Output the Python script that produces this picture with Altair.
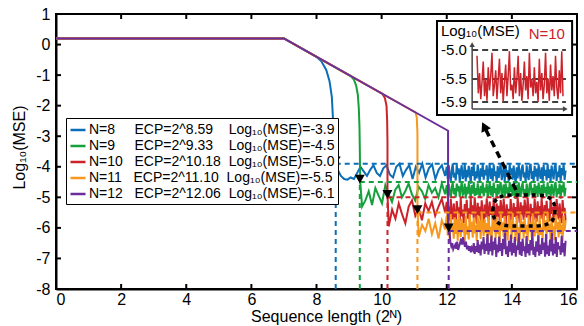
import altair as alt
import numpy as np
import pandas as pd

FONT = "Liberation Sans, Arial, sans-serif"

# ---------------- data ----------------
N_VALUES = [8, 9, 10, 11, 12]
ECP = [8.59, 9.33, 10.18, 11.10, 12.06]
LOG_MSE = [-3.9, -4.5, -5.0, -5.5, -6.1]
COLORS = ["#0b6fb8", "#14a03a", "#cc2229", "#f7981d", "#6b2d9b"]

PLATEAU_X = [0.0, 7.0]
PLATEAU_Y = [0.2, 0.2]
BRANCH_X = [8.0, 9.05, 10.02, 11.04, 12.04]
BRANCH_Y = [-0.4, -1.03, -1.61, -2.22, -2.82]

DROP_X = [
    [8.15, 8.3, 8.4, 8.47, 8.5, 8.52, 8.55, 8.57],
    [9.15, 9.22, 9.27, 9.3, 9.32, 9.33, 9.34],
    [10.1, 10.15, 10.17, 10.18, 10.18],
    [11.08, 11.1, 11.1],
    [12.04],
]
DROP_Y = [
    [-0.55, -0.83, -1.2, -1.7, -2.3, -2.8, -3.4, -3.85],
    [-1.15, -1.35, -1.65, -2.1, -2.7, -3.4, -4.45],
    [-1.75, -2.0, -2.5, -3.2, -4.9],
    [-2.4, -2.9, -5.4],
    [-6.0],
]

TAIL_A_START = [8.65, 9.4, 10.22, 11.14, None]
TAIL_A_END = 11.95
TAIL_A_Y = [
    [-4.1, -4.3, -4.4, -4.42, -4.35, -4.4, -4.2, -4.0, -4.15, -4.3, -4.1, -3.95, -4.2, -4.3, -4.05, -3.95, -4.25,
     -4.35, -4.0, -3.9, -4.3, -4.1, -3.95, -4.4, -4.0, -4.2, -3.9, -4.35, -4.05, -3.92, -4.4, -4.1, -3.95, -4.3],
    [-5.3, -5.1, -4.8, -5.25, -4.7, -4.95, -5.2, -4.6, -4.9, -5.15, -4.75, -4.6, -5.0, -4.8, -4.55, -4.9, -5.1,
     -4.65, -4.8, -5.05, -4.6, -4.85, -4.7, -5.0, -4.55, -4.9],
    [-5.95, -5.4, -5.7, -5.2, -5.55, -5.85, -5.3, -5.1, -5.6, -5.35, -5.75, -5.2, -5.45, -5.15, -5.6, -5.3, -5.05, -5.5],
    [-6.3, -5.9, -6.1, -5.7, -6.2, -5.85, -6.35, -5.75, -6.05],
    [],
]

TAIL_B_START = [12.0, 12.0, 12.0, 12.0, 12.08]
TAIL_B_END = 15.65
TAIL_B_Y = [
    [-4.0, -4.4, -3.95, -4.3, -4.5, -4.1, -3.9, -4.35, -4.2, -4.45, -3.92, -4.25, -4.05, -4.5, -4.15, -3.95, -4.4, -4.3, -3.9, -4.48,
     -4.1, -4.35, -3.97, -4.2, -4.55, -4.0, -4.3, -3.9, -4.45, -4.15, -4.38, -3.93, -4.25, -4.5, -4.05, -4.32, -3.9, -4.42, -4.1, -4.28,
     -3.95, -4.5, -4.2, -3.9, -4.4, -4.05, -4.47, -3.92, -4.3, -4.15, -4.52, -3.98, -4.36, -4.1, -3.9, -4.44, -4.22, -4.0, -4.5, -3.94,
     -4.33, -4.12, -4.48, -3.9, -4.26, -4.05, -4.42, -3.96, -4.3, -4.55, -4.02, -4.38, -3.91, -4.2, -4.46, -4.08, -3.93, -4.35, -4.18, -4.5,
     -3.95, -4.28, -4.43, -4.0, -3.9, -4.4, -4.14, -4.5, -3.97, -4.32, -4.06, -4.47, -3.92, -4.24, -4.39, -4.02, -4.52, -3.94, -4.3, -4.1,
     -4.45, -3.9, -4.36, -4.08, -4.5, -3.96, -4.22, -4.41, -4.0, -3.92, -4.47, -4.16, -4.34, -3.95, -4.5, -4.04, -4.28, -3.9, -4.43, -4.12],
    [-4.6, -4.95, -4.55, -4.85, -5.02, -4.65, -4.52, -4.9, -4.7, -5.0, -4.55, -4.8, -4.62, -4.98, -4.72, -4.5, -4.92, -4.85, -4.55, -5.04,
     -4.66, -4.9, -4.53, -4.78, -5.05, -4.6, -4.88, -4.5, -4.96, -4.7, -4.93, -4.54, -4.82, -5.01, -4.62, -4.87, -4.51, -4.97, -4.68, -4.84,
     -4.55, -5.02, -4.75, -4.5, -4.94, -4.63, -4.99, -4.52, -4.86, -4.7, -5.04, -4.57, -4.9, -4.66, -4.5, -4.96, -4.78, -4.58, -5.01, -4.54,
     -4.88, -4.67, -5.0, -4.5, -4.83, -4.6, -4.95, -4.55, -4.87, -5.05, -4.59, -4.92, -4.51, -4.76, -4.99, -4.64, -4.52, -4.9, -4.73, -5.02,
     -4.55, -4.84, -4.97, -4.58, -4.5, -4.93, -4.69, -5.03, -4.56, -4.88, -4.62, -4.99, -4.52, -4.8, -4.94, -4.6, -5.04, -4.54, -4.86, -4.66,
     -4.98, -4.51, -4.9, -4.64, -5.03, -4.56, -4.79, -4.95, -4.59, -4.5, -5.0, -4.71, -4.89, -4.55, -5.04, -4.61, -4.84, -4.5, -4.97, -4.68],
    [-5.15, -5.65, -5.3, -5.8, -5.05, -5.5, -5.72, -5.2, -5.58, -5.88, -5.12, -5.45, -5.33, -5.78, -5.02, -5.62, -5.4, -5.85, -5.22, -5.52,
     -5.08, -5.7, -5.36, -5.82, -5.04, -5.56, -5.26, -5.68, -5.0, -5.47, -5.86, -5.18, -5.61, -5.3, -5.76, -5.1, -5.52, -5.9, -5.24, -5.66,
     -5.03, -5.42, -5.81, -5.14, -5.57, -5.34, -5.73, -5.01, -5.49, -5.87, -5.2, -5.63, -5.28, -5.79, -5.09, -5.46, -5.67, -5.04, -5.55, -5.89,
     -5.23, -5.6, -5.38, -5.77, -5.06, -5.51, -5.84, -5.19, -5.64, -5.32, -5.71, -5.02, -5.48, -5.83, -5.16, -5.58, -5.27, -5.74, -5.07, -5.44,
     -5.66, -5.0, -5.53, -5.86, -5.21, -5.62, -5.35, -5.75, -5.05, -5.5, -5.8, -5.13, -5.59, -5.29, -5.7, -5.03, -5.46, -5.88, -5.25, -5.6,
     -5.11, -5.68, -5.37, -5.79, -5.02, -5.54, -5.31, -5.83, -5.17, -5.63, -5.06, -5.45, -5.72, -5.2, -5.57, -5.85, -5.09, -5.5, -5.34, -5.76],
    [-5.6, -6.25, -5.8, -6.4, -5.55, -6.1, -5.92, -6.35, -5.65, -6.2, -5.72, -6.42, -5.52, -6.02, -6.3, -5.7, -6.15, -5.86, -6.45, -5.6,
     -6.22, -5.95, -6.38, -5.54, -6.06, -5.8, -6.32, -5.66, -6.18, -5.9, -6.43, -5.58, -6.12, -5.76, -6.36, -5.5, -6.0, -6.27, -5.7, -6.16,
     -5.84, -6.44, -5.62, -6.24, -5.96, -6.4, -5.56, -6.08, -5.78, -6.33, -5.64, -6.2, -5.88, -6.45, -5.53, -6.1, -5.82, -6.3, -5.61, -6.26,
     -5.93, -6.41, -5.57, -6.04, -5.74, -6.37, -5.51, -6.14, -5.87, -6.44, -5.6, -6.21, -5.97, -6.39, -5.55, -6.07, -5.79, -6.34, -5.67, -6.19,
     -5.9, -6.42, -5.59, -6.11, -5.83, -6.3, -5.52, -6.02, -6.28, -5.69, -6.17, -5.91, -6.45, -5.58, -6.23, -5.98, -6.38, -5.54, -6.09, -5.75,
     -6.35, -5.5, -6.13, -5.86, -6.43, -5.63, -6.25, -5.94, -6.4, -5.56, -6.05, -5.81, -6.31, -5.68, -6.2, -5.89, -6.44, -5.6, -6.1, -5.77],
    [-6.05, -6.45, -6.6, -6.5, -6.7, -6.62, -6.55, -6.68, -6.45, -6.72, -6.6, -6.5, -6.35, -6.55, -6.3, -6.5, -6.62, -6.45, -6.7, -6.58,
     -6.75, -6.6, -6.8, -6.65, -6.72, -6.5, -6.85, -6.6, -6.78, -6.4, -6.82, -6.55, -6.9, -6.45, -6.7, -6.3, -6.85, -6.52, -6.75, -6.2,
     -6.88, -6.5, -6.76, -6.25, -6.9, -6.45, -6.72, -6.32, -6.95, -6.55, -6.8, -6.28, -6.75, -6.5, -6.92, -6.36, -6.7, -6.15, -6.86, -6.6,
     -6.95, -6.42, -6.78, -6.22, -6.9, -6.5, -6.82, -6.3, -6.94, -6.58, -6.72, -6.18, -6.88, -6.46, -6.92, -6.35, -6.76, -6.6, -6.95, -6.27,
     -6.83, -6.53, -6.9, -6.4, -6.74, -6.12, -6.88, -6.62, -6.95, -6.44, -6.78, -6.24, -6.91, -6.55, -6.85, -6.33, -6.72, -6.48, -6.94, -6.2,
     -6.86, -6.58, -6.92, -6.38, -6.77, -6.16, -6.9, -6.52, -6.84, -6.3, -6.95, -6.47, -6.7, -6.6, -6.88, -6.26, -6.8, -6.5, -6.93, -6.42],
]

INSET_Y = [-5.1, -5.75, -5.4, -5.85, -5.55, -5.2, -5.8, -5.5, -5.88, -5.3, -5.7, -5.45, -5.05, -5.8, -5.6, -5.35,
           -5.85, -5.5, -5.15, -5.75, -5.4, -5.9, -5.55, -5.25, -5.8, -5.45, -5.02, -5.7, -5.6, -5.85, -5.3, -5.75,
           -5.5, -5.1, -5.8, -5.4, -5.88, -5.6, -5.2, -5.7, -5.45, -5.85, -5.05, -5.65, -5.5, -5.8, -5.3, -5.75,
           -5.55, -5.9, -5.15, -5.7, -5.4, -5.85, -5.6, -5.05, -5.75, -5.5, -5.88, -5.25, -5.7, -5.45, -5.8, -5.1,
           -5.65, -5.85, -5.35, -5.75, -5.02, -5.8]
INSET_TICKS = [-5.0, -5.5, -5.9]
INSET_TICK_LABELS = ["-5.0", "-5.5", "-5.9"]

X_TICKS = [0, 2, 4, 6, 8, 10, 12, 14, 16]
Y_TICKS = [1, 0, -1, -2, -3, -4, -5, -6, -7, -8]

# ---------------- layout constants ----------------
W, H = 521, 275
X_MIN, X_MAX, Y_MIN, Y_MAX = 0, 16, -8, 1
NB = "\u00a0"
FS = "\u2007"
RED = COLORS[2]


def label(n, e, m):
    c1 = f"N={n}" + (FS if n < 10 else "")
    c2 = f"ECP=2^{e:.2f}" + (FS if e < 10 else "")
    return c1 + NB * 3 + c2 + NB * 2 + f"Log\u2081\u2080(MSE)={m:.1f}"


LABELS = [label(n, e, m) for n, e, m in zip(N_VALUES, ECP, LOG_MSE)]

rows = []
for i in range(5):
    xs = PLATEAU_X + [BRANCH_X[i]] + DROP_X[i]
    ys = PLATEAU_Y + [BRANCH_Y[i]] + DROP_Y[i]
    if TAIL_A_Y[i]:
        xs += list(np.linspace(TAIL_A_START[i], TAIL_A_END, len(TAIL_A_Y[i])))
        ys += TAIL_A_Y[i]
    xs += list(np.linspace(TAIL_B_START[i], TAIL_B_END, len(TAIL_B_Y[i])))
    ys += TAIL_B_Y[i]
    for k, (xv, yv) in enumerate(zip(xs, ys)):
        rows.append({"series": LABELS[i], "x": xv, "y": yv, "idx": k})
lines_df = pd.DataFrame(rows)

ecp_df = pd.DataFrame({"series": LABELS, "ecp": ECP, "mse": LOG_MSE,
                       "ybot": [Y_MIN] * 5, "xright": [X_MAX] * 5})

xs_ = alt.Scale(domain=[X_MIN, X_MAX], nice=False, zero=False)
ys_ = alt.Scale(domain=[Y_MIN, Y_MAX], nice=False, zero=False)
x_axis = alt.Axis(values=X_TICKS, title="Sequence length (2\u1d3a)", ticks=False, grid=False,
                  labelPadding=2, labelFontSize=16, titleFontSize=16, labelExpr="'' + datum.value",
                  titleX=270, titleY=32, titleBaseline="alphabetic", titleAnchor="middle")
y_axis = alt.Axis(values=Y_TICKS, title="Log\u2081\u2080(MSE)", ticks=False, grid=False,
                  labelPadding=6, labelFontSize=16, titleFontSize=16, labelExpr="'' + datum.value",
                  titleX=-32, titleY=133, titleBaseline="alphabetic", titleAngle=-90, titleAlign="center")
color_scale = alt.Scale(domain=LABELS, range=COLORS)
legend = alt.Legend(title=None, orient="none", legendX=10, legendY=104, fillColor="white",
                    strokeColor="black", padding=3, symbolType="stroke", symbolSize=225,
                    symbolStrokeWidth=2.5, labelFontSize=14, labelLimit=500, labelOffset=2,
                    rowPadding=0, labelFont=FONT)


def X(f):
    return alt.X(f, scale=xs_, axis=x_axis)


def Y(f):
    return alt.Y(f, scale=ys_, axis=y_axis)


def COLOR():
    return alt.Color("series:N", scale=color_scale, legend=legend)


layers = []

# series lines, drawn in order N=8..12
for lab in LABELS:
    layers.append(
        alt.Chart(lines_df).transform_filter(alt.datum.series == lab)
        .mark_line(strokeWidth=2, clip=True)
        .encode(x=X("x:Q"), y=Y("y:Q"), order="idx:Q", color=COLOR())
    )

# dashed guide lines
layers.append(alt.Chart(ecp_df).mark_rule(strokeWidth=2, strokeDash=[5, 4]).encode(
    x=X("ecp:Q"), y=Y("ybot:Q"), y2="mse:Q", color=COLOR()))
layers.append(alt.Chart(ecp_df).mark_rule(strokeWidth=2, strokeDash=[5, 4]).encode(
    x=X("ecp:Q"), x2="xright:Q", y=Y("mse:Q"), color=COLOR()))
# ECP markers
layers.append(alt.Chart(ecp_df).mark_point(shape="triangle-down", filled=True, color="black",
                                           opacity=1, size=100, yOffset=-3).encode(
    x=X("ecp:Q"), y=Y("mse:Q")))

# inward ticks
xt = pd.DataFrame({"t": X_TICKS})
yt = pd.DataFrame({"t": Y_TICKS})
layers.append(alt.Chart(xt).mark_rule(color="black", strokeWidth=2).encode(
    x=X("t:Q"), y=alt.value(0), y2=alt.value(5)))
layers.append(alt.Chart(xt).mark_rule(color="black", strokeWidth=2).encode(
    x=X("t:Q"), y=alt.value(H - 5), y2=alt.value(H)))
layers.append(alt.Chart(yt).mark_rule(color="black", strokeWidth=2).encode(
    y=Y("t:Q"), x=alt.value(0), x2=alt.value(5)))
layers.append(alt.Chart(yt).mark_rule(color="black", strokeWidth=2).encode(
    y=Y("t:Q"), x=alt.value(W - 5), x2=alt.value(W)))

# dotted ellipse and dashed arrow (annotation geometry)
ELLIPSE = ("M-1,0 C-1,-0.55 -0.55,-0.5 0,-0.5 C0.55,-0.5 1,-0.55 1,0 "
           "C1,0.55 0.55,0.5 0,0.5 C-0.55,0.5 -1,0.55 -1,0 Z")
ell_df = pd.DataFrame({"x": [14.37], "y": [-5.43]})
layers.append(alt.Chart(ell_df).mark_point(shape=ELLIPSE, size=3844, filled=False, color="black", opacity=1,
                                           strokeWidth=3.5, strokeDash=[4, 4]).encode(
    x=X("x:Q"), y=Y("y:Q")))
arrow_df = pd.DataFrame({"x": [13.205], "y": [-2.796], "x2": [14.188], "y2": [-4.891]})
layers.append(alt.Chart(arrow_df).mark_rule(color="black", strokeWidth=3.5, strokeDash=[7, 5]).encode(
    x=X("x:Q"), y=Y("y:Q"), x2="x2:Q", y2="y2:Q"))
head_df = pd.DataFrame({"x": [13.15], "y": [-2.68]})
layers.append(alt.Chart(head_df).mark_point(shape="triangle-up", filled=True, color="black", opacity=1,
                                            size=110, angle=334).encode(x=X("x:Q"), y=Y("y:Q")))

# inset
box_df = pd.DataFrame({"x": [11.70], "x2": [15.85], "y": [0.771], "y2": [-2.305]})
layers.append(alt.Chart(box_df).mark_rect(fill="white", stroke="black", strokeWidth=2).encode(
    x=X("x:Q"), x2="x2:Q", y=Y("y:Q"), y2="y2:Q"))
inset_map = "-0.178 + (datum.v + 5) * 1.891"
inset_tick_df = pd.DataFrame({"v": INSET_TICKS, "lab": INSET_TICK_LABELS,
                              "x": [12.78] * 3, "x2": [15.66] * 3, "xl": [12.62] * 3})
layers.append(alt.Chart(inset_tick_df).transform_calculate(ym=inset_map)
              .mark_rule(color="black", strokeWidth=1.5, strokeDash=[6, 4]).encode(
    x=X("x:Q"), x2="x2:Q", y=Y("ym:Q")))
layers.append(alt.Chart(inset_tick_df).transform_calculate(ym=inset_map)
              .mark_text(align="right", baseline="middle", fontSize=15, font=FONT, color="black").encode(
    x=X("xl:Q"), y=Y("ym:Q"), text="lab:N"))
inset_df = pd.DataFrame({"v": INSET_Y, "x": np.linspace(12.93, 15.57, len(INSET_Y))})
layers.append(alt.Chart(inset_df).transform_calculate(ym=inset_map)
              .mark_line(color=RED, strokeWidth=1.5).encode(x=X("x:Q"), y=Y("ym:Q")))
iax_df = pd.DataFrame({"x": [12.78, 12.78], "y": [-2.109, -2.109], "x2": [12.78, 15.62], "y2": [0.0, -2.109]})
layers.append(alt.Chart(iax_df).mark_rule(color="#444", strokeWidth=1.5).encode(
    x=X("x:Q"), y=Y("y:Q"), x2="x2:Q", y2="y2:Q"))
ihead_df = pd.DataFrame({"x": [12.78, 15.64], "y": [0.0, -2.109], "shape": ["triangle-up", "triangle-right"]})
layers.append(alt.Chart(ihead_df).mark_point(filled=True, color="#444", opacity=1, size=30).encode(
    x=X("x:Q"), y=Y("y:Q"), shape=alt.Shape("shape:N", scale=None, legend=None)))
itxt_df = pd.DataFrame({"x": [11.82], "y": [0.44], "t": ["Log\u2081\u2080(MSE)"]})
layers.append(alt.Chart(itxt_df).mark_text(align="left", baseline="middle", fontSize=15, font=FONT,
                                           color="black").encode(x=X("x:Q"), y=Y("y:Q"), text="t:N"))
ntxt_df = pd.DataFrame({"x": [15.63], "y": [0.345], "t": ["N=10"]})
layers.append(alt.Chart(ntxt_df).mark_text(align="right", baseline="middle", fontSize=15, font=FONT,
                                           color=RED).encode(x=X("x:Q"), y=Y("y:Q"), text="t:N"))

chart = alt.layer(*layers).properties(
    width=W, height=H,
    padding={"left": 56, "top": 14, "right": 7, "bottom": 37},
    autosize=alt.AutoSizeParams(type="none"),
).configure(font=FONT).configure_view(
    stroke="black", strokeWidth=2
).configure_axis(
    domainColor="black", domainWidth=2, labelColor="black", titleColor="black",
    labelFont=FONT, titleFont=FONT, titleFontWeight="normal"
).configure_legend(labelColor="black")

chart.save("out.html", embed_options={"renderer": "svg", "actions": False})
